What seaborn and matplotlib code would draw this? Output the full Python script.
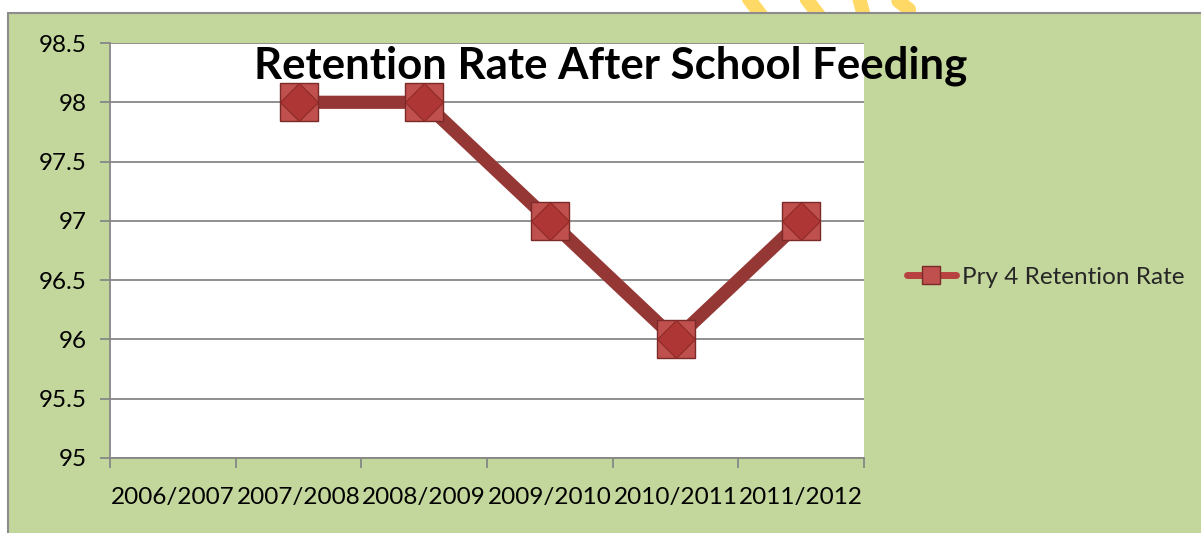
import numpy as np
import pandas as pd
import matplotlib
matplotlib.use("Agg")
import matplotlib.pyplot as plt
from matplotlib.patches import Rectangle
from matplotlib.lines import Line2D
import seaborn as sns

# School years on the category axis and the Primary 4 retention rate (%)
years = ["2006/2007", "2007/2008", "2008/2009", "2009/2010", "2010/2011", "2011/2012"]
retention = [np.nan, 98, 98, 97, 96, 97]
y_ticks = [95, 95.5, 96, 96.5, 97, 97.5, 98, 98.5]
series_name = "Pry 4 Retention Rate"
title = "Retention Rate After School Feeding"

df = pd.DataFrame({"year": years, "rate": retention})
df["pos"] = np.arange(len(years))
df = df.dropna()

sns.set_theme(style="white")
plt.rcParams["font.family"] = ["Lato", "DejaVu Sans"]

W, H = 1201, 533
fig = plt.figure(figsize=(W / 100, H / 100), dpi=100, facecolor="white")

# page decoration peeking above the chart frame
for xs, ys in [([0.614, 0.636], [1.03, 0.965]), ([0.662, 0.684], [1.03, 0.965]),
               ([0.712, 0.720], [1.03, 0.965]), ([0.748, 0.757], [0.998, 0.982])]:
    fig.add_artist(Line2D(xs, ys, color="#FFD966", lw=10, solid_capstyle="round", zorder=0))

# green chart area with thin grey frame
chart_bg = "#C3D69B"
fig.add_artist(Rectangle((8 / W, -0.01), 1.02 - 8 / W, 1 - 13 / H + 0.01,
                         transform=fig.transFigure, facecolor=chart_bg,
                         edgecolor="#8C8C8C", lw=1.5, zorder=1))

ax = fig.add_axes([110 / W, 1 - 458 / H, (864 - 110) / W, (458 - 43) / H], zorder=2)
ax.set_facecolor("white")

line_col = "#953735"
sns.lineplot(data=df, x="pos", y="rate", ax=ax, color=line_col, lw=9.5,
             marker="s", markersize=27, markerfacecolor="#C0504D",
             markeredgecolor="#7A2A28", markeredgewidth=1.0, zorder=3,
             solid_joinstyle="miter", label=series_name, legend=False)
# pyramid face on each marker
ax.plot(df["pos"], df["rate"], ls="none", marker="D", markersize=19,
        markerfacecolor="#AE3634", markeredgecolor="#8C2A28", markeredgewidth=0.8, zorder=4)

ax.set_xlim(-0.5, len(years) - 0.5)
ax.set_ylim(95, 98.5)
ax.set_yticks(y_ticks)
ax.set_yticklabels([f"{v:g}" for v in y_ticks])
ax.set_xticks(np.arange(len(years) + 1) - 0.5)
ax.set_xticklabels([])
ax.set_xticks(np.arange(len(years)), minor=True)
ax.set_xticklabels(years, minor=True)
ax.set_xlabel("")
ax.set_ylabel("")

grid_col = "#878787"
ax.yaxis.grid(True, color=grid_col, lw=1.3)
ax.xaxis.grid(False)
for s in ["top", "right"]:
    ax.spines[s].set_visible(False)
for s in ["left", "bottom"]:
    ax.spines[s].set_color(grid_col)
    ax.spines[s].set_linewidth(1.3)

ax.tick_params(axis="y", which="major", direction="out", length=7, width=1.3,
               color=grid_col, labelsize=17.5, labelcolor="black", pad=10, left=True)
ax.tick_params(axis="x", which="major", direction="out", length=7, width=1.3,
               color=grid_col, bottom=True)
ax.tick_params(axis="x", which="minor", length=0, labelsize=17.5,
               labelcolor="black", pad=21)

fig.text(611 / W, 1 - 66 / H, title, ha="center", va="center",
         fontsize=31.5, fontweight="bold", color="black", zorder=5)

# legend entry at the right
handle = Line2D([], [], color="#B8423F", lw=5, marker="s", markersize=13,
                markerfacecolor="#C0504D", markeredgecolor="#7A2A28")
fig.legend([handle], [series_name], loc="center left",
           bbox_to_anchor=(907 / W, 1 - 277 / H), frameon=False, borderpad=0,
           borderaxespad=0, fontsize=17.5, handlelength=2.0, handletextpad=0.25)

fig.savefig("out.png", dpi=100, facecolor="white")
